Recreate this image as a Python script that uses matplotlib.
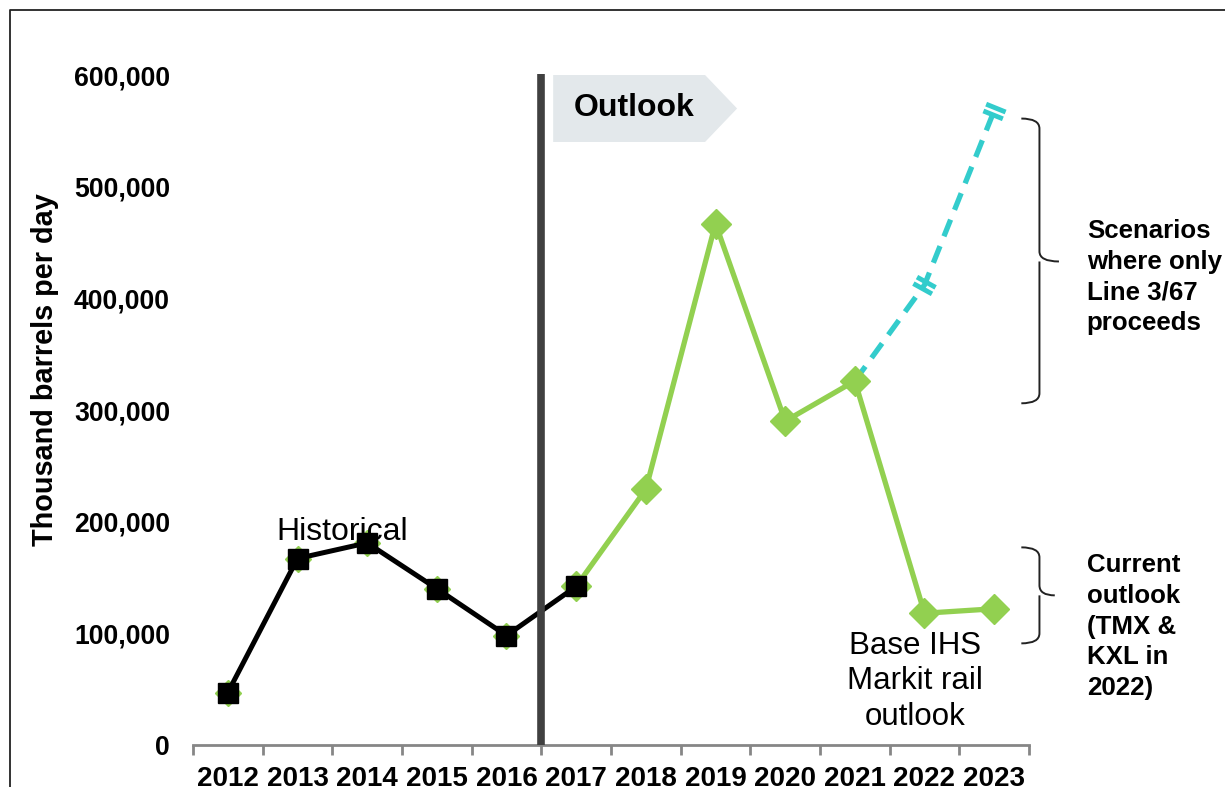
import matplotlib.pyplot as plt
from matplotlib.patches import Polygon, PathPatch
from matplotlib.path import Path
from matplotlib.lines import Line2D
import numpy as np

years = ['2012', '2013', '2014', '2015', '2016', '2017',
         '2018', '2019', '2020', '2021', '2022', '2023']
historical = [47000, 167000, 181000, 140000, 98000, 142000]
base_outlook = [142000, 229000, 467000, 290000, 326000, 118000, 122000]
scenario = [326000, 412000, 568000]
y_ticks = [0, 100000, 200000, 300000, 400000, 500000, 600000]

plt.rcParams['font.family'] = ['Liberation Sans', 'DejaVu Sans']

GREEN = '#92d050'
CYAN = '#33cccc'


def double_bar(angle):
    # two short bars across a line running at `angle` degrees
    a = np.radians(angle)
    d = np.array([np.cos(a), np.sin(a)])
    p = np.array([-np.sin(a), np.cos(a)])
    verts = []
    for off in (-0.35, 0.35):
        c = d * off
        verts += [tuple(c - p), tuple(c + p)]
    return Path(verts, [Path.MOVETO, Path.LINETO, Path.MOVETO, Path.LINETO])


fig = plt.figure(figsize=(12.25, 7.87), dpi=100)
ax = fig.add_axes([193 / 1225, 1 - 745 / 787, (1029 - 193) / 1225, (745 - 75) / 787])

x_all = list(range(len(years)))
x_hist = x_all[:len(historical)]
x_base = x_all[len(historical) - 1:]
x_scen = x_all[9:9 + len(scenario)]

# green diamonds sit under the historical squares too
ax.plot(x_hist, historical, linestyle='none', marker='D', markersize=13,
        color=GREEN, zorder=2)
ax.plot(x_base, base_outlook, color=GREEN, linewidth=3.8, marker='D',
        markersize=15, zorder=3)
ax.plot(x_scen, scenario, color=CYAN, linewidth=3.8, linestyle=(0, (3.4, 2.0)),
        zorder=2)
for xs, ys, ang in [(x_scen[1], scenario[1], 61), (x_scen[2], scenario[2], 68)]:
    ax.plot([xs], [ys], linestyle='none', marker=double_bar(ang), markersize=16,
            markeredgewidth=3.5, color=CYAN, zorder=2)
ax.plot(x_hist, historical, color='black', linewidth=3.6, marker='s',
        markersize=15, zorder=4)

ax.set_xlim(-0.5, len(years) - 0.5)
ax.set_ylim(0, 600000)

ax.set_xticks([i - 0.5 for i in range(len(years) + 1)])
ax.set_xticklabels([])
ax.set_xticks(x_all, minor=True)
ax.set_xticklabels(years, minor=True, fontsize=20, fontweight='bold')
ax.tick_params(axis='x', which='major', length=7, width=2, color='#868686',
               direction='out')
ax.tick_params(axis='x', which='minor', length=0, pad=15)

ax.set_yticks(y_ticks)
ax.set_yticklabels(['{:,}'.format(v) for v in y_ticks], fontsize=19.2, fontweight='bold')
ax.tick_params(axis='y', length=0, pad=16.5)

for s in ['left', 'right', 'top']:
    ax.spines[s].set_visible(False)
ax.spines['bottom'].set_color('#868686')
ax.spines['bottom'].set_linewidth(2)

ax.set_ylabel('Thousand barrels per day', fontsize=20.8, fontweight='bold')
ax.yaxis.set_label_coords(-0.16, 0.56)

# divider between history and outlook
ax.plot([4.5, 4.5], [0, 601000], color='#404040', linewidth=5.5, zorder=5,
        clip_on=False, solid_capstyle='butt')

flag = Polygon([(4.67, 600000), (6.85, 600000), (7.31, 570000),
                (6.85, 540000), (4.67, 540000)], closed=True,
               facecolor='#e3e8eb', edgecolor='none', clip_on=False, zorder=1)
ax.add_patch(flag)
ax.text(5.83, 570000, 'Outlook', fontsize=23, fontweight='bold',
        ha='center', va='center')

ax.text(1.64, 191000, 'Historical', fontsize=23, ha='center', va='center')
ax.text(9.86, 57000, 'Base IHS\nMarkit rail\noutlook', fontsize=22.5,
        ha='center', va='center', linespacing=1.24)


def brace(x_end, x_spine, x_tip, y_top, y_bot, y_mid, r):
    verts = [(x_end, y_top), (x_spine, y_top), (x_spine, y_top - r),
             (x_spine, y_mid + r), (x_spine, y_mid), (x_tip, y_mid),
             (x_spine, y_mid), (x_spine, y_mid - r),
             (x_spine, y_bot + r), (x_spine, y_bot), (x_end, y_bot)]
    codes = [Path.MOVETO, Path.CURVE3, Path.CURVE3, Path.LINETO,
             Path.CURVE3, Path.CURVE3, Path.MOVETO, Path.CURVE3,
             Path.LINETO, Path.CURVE3, Path.CURVE3]
    ax.add_patch(PathPatch(Path(verts, codes), facecolor='none',
                           edgecolor='#222222', linewidth=1.4, clip_on=False))


brace(11.39, 11.65, 11.93, 561000, 306000, 433000, 9000)
brace(11.39, 11.65, 11.87, 177000, 91000, 134000, 9000)

ax.text(12.33, 419000, 'Scenarios\nwhere only\nLine 3/67\nproceeds',
        fontsize=18.6, fontweight='bold', ha='left', va='center', linespacing=1.36)
ax.text(12.33, 106000, 'Current\noutlook\n(TMX &\nKXL in\n2022)',
        fontsize=18.6, fontweight='bold', ha='left', va='center', linespacing=1.36)

# frame border of the slide
fig.add_artist(Line2D([10 / 1225, 10 / 1225, 1], [0, 1 - 10 / 787, 1 - 10 / 787],
                      transform=fig.transFigure, color='#222222', linewidth=1.3))

fig.savefig('out.png', dpi=100)
